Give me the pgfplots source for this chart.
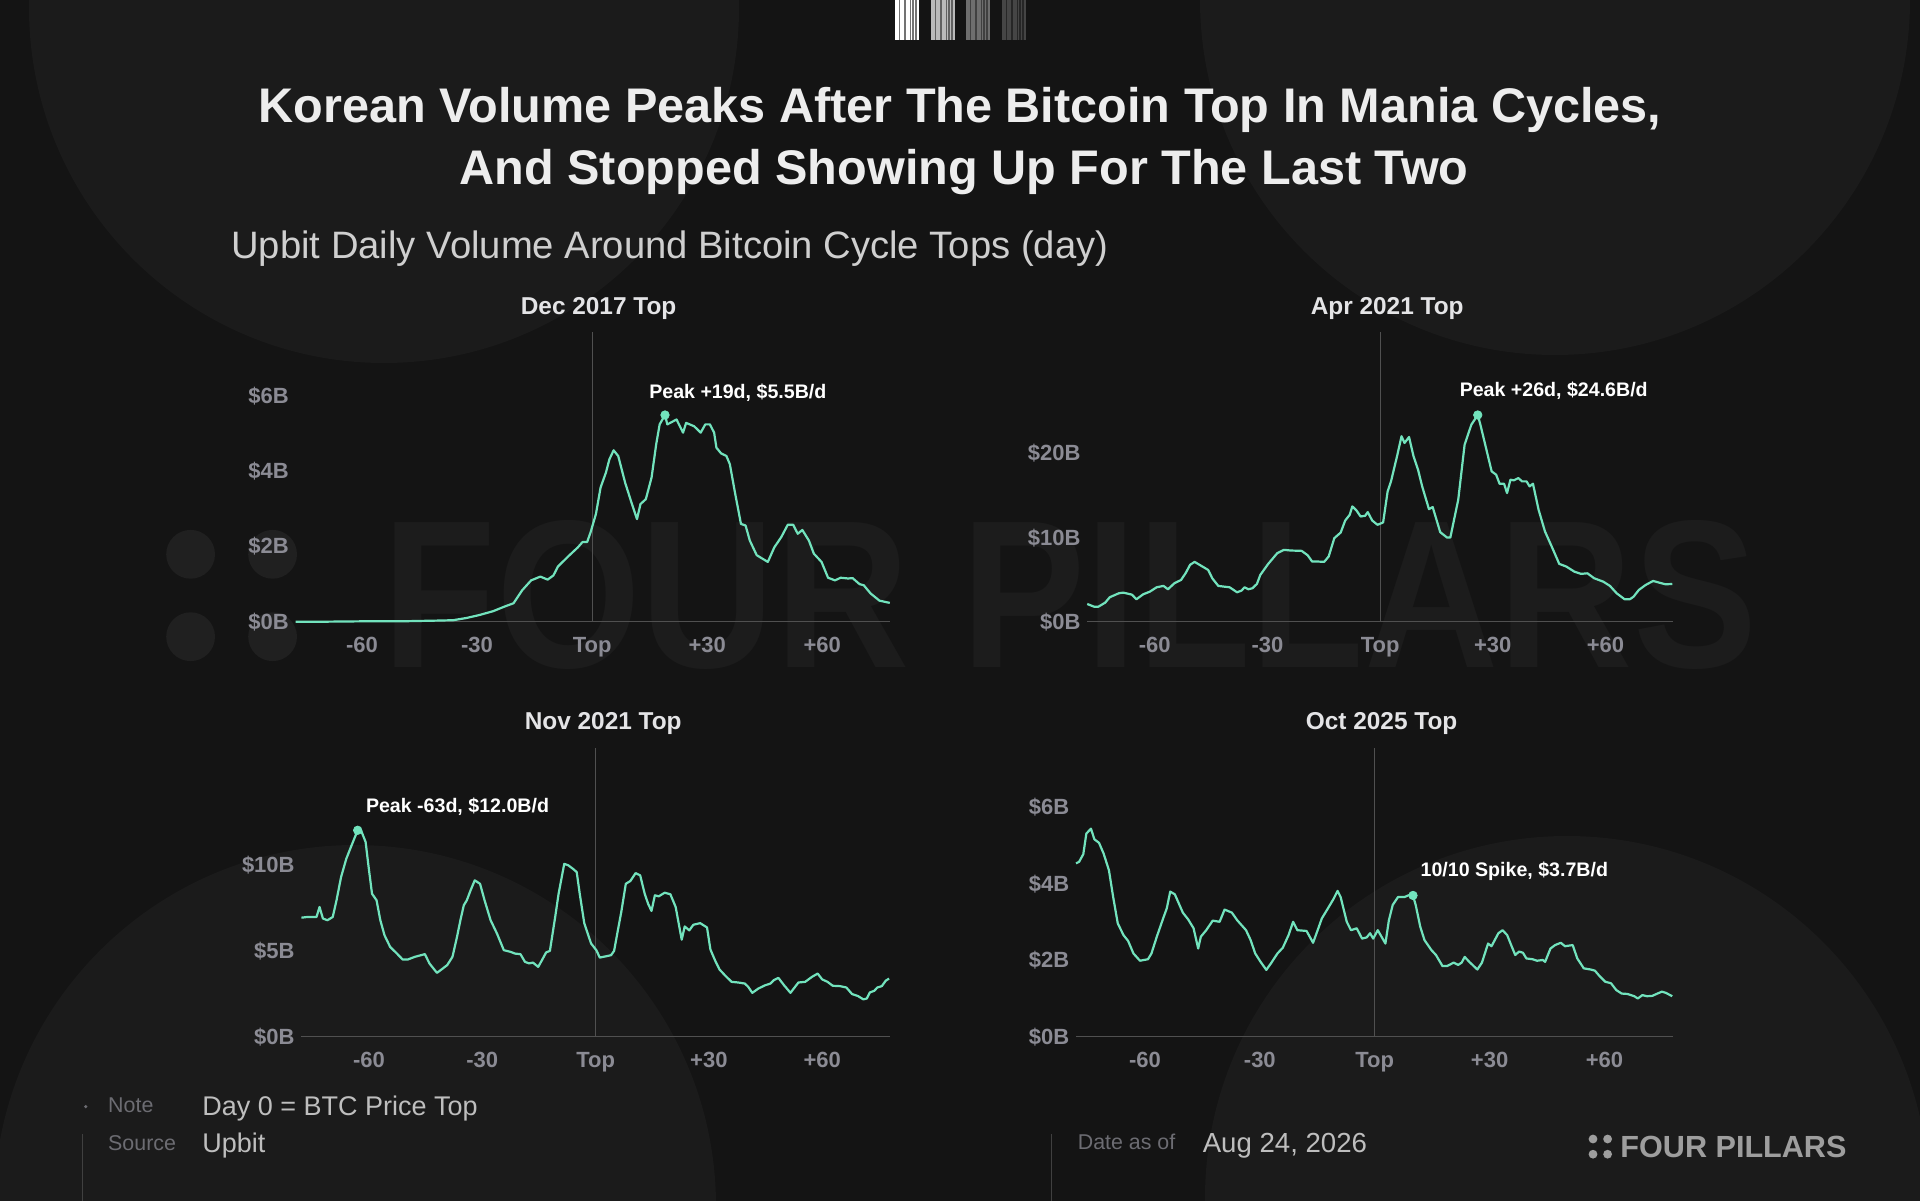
\documentclass[border=0pt]{standalone}
\usepackage{pgfplots}
\pgfplotsset{compat=1.18}
\usepackage{fontspec}
\usepackage{graphicx}
\setmainfont{Liberation Sans}
\definecolor{bg}{HTML}{141414}
\definecolor{circ}{HTML}{1B1B1B}
\definecolor{wm}{HTML}{1C1C1C}
\definecolor{wmd}{HTML}{202020}
\definecolor{mint}{HTML}{72E3BD}
\definecolor{tickc}{HTML}{8B8B94}
\definecolor{ptitle}{HTML}{E4E4E6}
\definecolor{axl}{HTML}{505050}
\definecolor{titlec}{HTML}{EDEDED}
\definecolor{subc}{HTML}{CFCFCF}
\definecolor{footk}{HTML}{6C6C72}
\definecolor{footv}{HTML}{BEBEBE}
\pgfplotsset{panel/.style={
  scale only axis, anchor=south west, clip=false,
  axis line style={draw=none}, major tick length=0pt,
  xtick={-60,-30,0,30,60}, xticklabels={-60,-30,Top,+30,+60},
  ymin=0,
  tick label style={font=\bfseries\fontsize{11}{13}\selectfont, text=tickc},
  xticklabel style={anchor=north, inner sep=0pt, yshift=-7.5pt},
  yticklabel style={anchor=east, inner sep=0pt, xshift=-3.2pt},
}}
\tikzset{vol/.style={color=mint, line width=1.1pt, line join=round},
  pk/.style={only marks, mark=*, mark size=2.1pt, color=mint},
  ann/.style={anchor=base west, inner sep=0pt, text=white, font=\bfseries\fontsize{9.8}{11}\selectfont}}
\begin{document}
\begin{tikzpicture}
\path[use as bounding box] (0,0) rectangle (960pt,600pt);
\fill[bg] (-3pt,-3pt) rectangle (963pt,603pt);
\begin{scope}
\clip (-3pt,-3pt) rectangle (963pt,603pt);
\fill[circ] (192pt,596pt) circle (177.5pt);
\fill[circ] (777.5pt,600pt) circle (177.5pt);
\fill[circ] (177.5pt,-3pt) circle (180.5pt);
\fill[circ] (783.5pt,1pt) circle (181pt);
\end{scope}
% watermark
\node[anchor=base west, inner sep=0pt, text=wm] at (191pt,266.3pt) {\resizebox{687.5pt}{73.5pt}{\bfseries FOUR PILLARS}};
\foreach \dx in {95.3,136.3}{\foreach \dy in {322.85,281.65}{\fill[wmd] (\dx pt,\dy pt) circle (12.2pt);}}
% barcode logo
\foreach \g/\c/\d in {447.5/white/black!55!white, 465.5/black!27!white/black!62!white, 483/black!57!white/black!75!white, 501/black!73!white/black!85!white}{
  \fill[\c] (\g pt,580pt) rectangle (\g pt+12pt,600pt);
  \foreach \a/\w in {2/0.6, 4.5/1.0, 7.5/0.6, 8.6/1.0, 10.2/1.0}{
    \fill[\d] (\g pt+\a pt,580pt) rectangle (\g pt+\a pt+\w pt,600pt);
  }
}
% titles
\node[anchor=base, inner sep=0pt, text=titlec, font=\bfseries\fontsize{24.3}{28}\selectfont] at (480pt,538.65pt) {Korean Volume Peaks After The Bitcoin Top In Mania Cycles,};
\node[anchor=base, inner sep=0pt, text=titlec, font=\bfseries\fontsize{24.3}{28}\selectfont] at (482pt,507.5pt) {And Stopped Showing Up For The Last Two};
\node[anchor=base west, inner sep=0pt, text=subc, font=\fontsize{19.1}{22}\selectfont] at (115.5pt,470.85pt) {Upbit Daily Volume Around Bitcoin Cycle Tops (day)};
% panel titles
\node[anchor=base, inner sep=0pt, text=ptitle, font=\bfseries\fontsize{12.2}{14}\selectfont] at (299.3pt,442.8pt) {Dec 2017 Top};
\node[anchor=base, inner sep=0pt, text=ptitle, font=\bfseries\fontsize{12.2}{14}\selectfont] at (693.6pt,442.8pt) {Apr 2021 Top};
\node[anchor=base, inner sep=0pt, text=ptitle, font=\bfseries\fontsize{12.2}{14}\selectfont] at (301.6pt,235.3pt) {Nov 2021 Top};
\node[anchor=base, inner sep=0pt, text=ptitle, font=\bfseries\fontsize{12.2}{14}\selectfont] at (690.8pt,235.3pt) {Oct 2025 Top};

% Panel 1
\begin{axis}[panel, at={(147.8pt,289.15pt)}, width=297.1pt, height=144.7pt,
  xmin=-77.3, xmax=77.6, ymax=7.7, ytick={0,2,4,6}, yticklabels={\$0B,\$2B,\$4B,\$6B}]
\draw[axl, line width=0.6pt] (axis cs:-77.3,0) -- (axis cs:77.6,0);
\draw[axl, line width=0.5pt] (axis cs:0,0) -- (axis cs:0,7.7);
\addplot[vol] coordinates {(-77.3,0.00) (-70,0.00) (-60,0.01) (-50,0.01) (-45,0.02) (-40,0.03) (-36.2,0.04) (-32.7,0.10) (-29.3,0.18) (-25.8,0.28) (-22.9,0.40) (-20.5,0.49) (-18.2,0.84) (-15.9,1.10) (-13.5,1.20) (-11.6,1.12) (-10.1,1.23) (-8.9,1.47) (-6.0,1.76) (-3.7,1.98) (-2.5,2.12) (-1.3,2.12) (-0.4,2.38) (1.0,2.87) (2.2,3.57) (3.6,3.97) (4.5,4.32) (5.6,4.56) (6.8,4.41) (8.6,3.70) (10.1,3.22) (11.7,2.73) (12.6,3.13) (14.0,3.26) (15.5,3.84) (16.7,4.72) (17.6,5.25) (19,5.5) (19.6,5.25) (22.0,5.38) (23.7,5.03) (24.5,5.29) (26.6,5.20) (28.3,5.03) (29.5,5.25) (30.7,5.25) (31.8,5.03) (32.4,4.63) (33.6,4.48) (35.0,4.41) (35.9,4.19) (37.3,3.40) (38.8,2.60) (40.0,2.56) (41.1,2.16) (42.9,1.77) (45.8,1.59) (47.5,1.98) (49.3,2.25) (51.0,2.58) (52.4,2.58) (53.6,2.34) (54.8,2.44) (56.5,2.16) (57.8,1.81) (59.8,1.59) (61.5,1.17) (63.3,1.10) (64.8,1.17) (66.7,1.15) (67.9,1.16) (69.7,1.00) (70.8,0.97) (72.6,0.75) (74.9,0.56) (77.6,0.50)};
\addplot[pk] coordinates {(19,5.5)};
\node[ann] at (axis cs:14.8,5.95) {Peak +19d, \$5.5B/d};
\end{axis}

% Panel 2
\begin{axis}[panel, at={(543.6pt,289.15pt)}, width=292.9pt, height=144.7pt,
  xmin=-78, xmax=78, ymax=34.44, ytick={0,10,20}, yticklabels={\$0B,\$10B,\$20B}]
\draw[axl, line width=0.6pt] (axis cs:-78,0) -- (axis cs:78,0);
\draw[axl, line width=0.5pt] (axis cs:0,0) -- (axis cs:0,34.44);
\addplot[vol] coordinates {(-78.0,2.11) (-76.2,1.79) (-75.0,1.79) (-73.2,2.27) (-72.0,2.91) (-69.6,3.38) (-68.4,3.46) (-66.1,3.22) (-64.9,2.67) (-63.1,3.26) (-61.3,3.58) (-59.5,4.10) (-57.7,4.26) (-56.5,3.86) (-54.8,4.57) (-53.0,4.97) (-51.8,5.77) (-50.6,6.77) (-49.4,7.12) (-47.6,6.64) (-45.8,6.16) (-44.7,5.17) (-43.1,4.26) (-41.7,4.18) (-40.1,4.10) (-38.1,3.50) (-36.9,3.70) (-36.1,4.10) (-35.1,3.86) (-34.0,3.98) (-32.8,4.50) (-31.9,5.57) (-29.8,6.88) (-27.4,8.15) (-25.6,8.55) (-23.8,8.47) (-20.9,8.43) (-19.3,7.91) (-18.1,7.16) (-16.7,7.16) (-14.9,7.12) (-13.7,7.76) (-12.2,9.94) (-10.5,10.61) (-9.3,12.04) (-8.1,12.72) (-7.4,13.72) (-6.3,13.24) (-5.2,12.52) (-4.0,12.60) (-3.3,13.04) (-2.1,12.04) (-0.7,11.53) (0.8,11.81) (2.0,15.50) (2.9,16.70) (4.5,19.68) (5.7,22.07) (6.5,21.27) (7.7,21.98) (8.9,19.68) (10.1,18.09) (11.2,16.10) (13.0,13.40) (14.0,13.64) (16.0,10.66) (17.8,10.02) (18.7,10.02) (20.8,14.51) (22.5,21.07) (24.3,23.45) (26,24.6) (26.7,23.45) (28.2,20.67) (29.7,17.89) (30.9,17.49) (31.8,16.42) (33.0,16.42) (33.8,15.31) (34.7,16.90) (35.6,16.82) (36.8,17.09) (37.8,16.70) (39.0,16.70) (39.8,16.10) (40.7,16.42) (42.2,13.32) (43.9,10.74) (45.7,8.94) (47.7,6.88) (49.6,6.56) (51.7,5.96) (53.5,5.69) (55.2,5.76) (57.0,5.17) (59.4,4.77) (61.2,4.26) (63.0,3.38) (65.1,2.67) (66.5,2.67) (67.5,2.98) (68.9,3.78) (70.7,4.37) (72.7,4.85) (74.3,4.65) (76.0,4.45) (77.8,4.49)};
\addplot[pk] coordinates {(26,24.6)};
\node[ann] at (axis cs:21.1,26.83) {Peak +26d, \$24.6B/d};
\end{axis}

% Panel 3
\begin{axis}[panel, at={(150.7pt,81.65pt)}, width=294.2pt, height=144.5pt,
  xmin=-77.9, xmax=77.9, ymax=16.8, ytick={0,5,10}, yticklabels={\$0B,\$5B,\$10B}]
\draw[axl, line width=0.6pt] (axis cs:-77.9,0) -- (axis cs:77.9,0);
\draw[axl, line width=0.5pt] (axis cs:0,0) -- (axis cs:0,16.8);
\addplot[vol] coordinates {(-77.9,6.92) (-76.3,6.96) (-75.1,6.96) (-73.9,6.96) (-73.1,7.54) (-72.2,6.87) (-71.0,6.77) (-69.6,6.96) (-68.6,7.93) (-67.4,9.28) (-66.0,10.35) (-64.8,11.02) (-63,12.0) (-62.1,11.99) (-60.9,11.32) (-60.1,9.86) (-59.2,8.31) (-58.0,7.93) (-57.0,6.77) (-55.9,5.90) (-54.4,5.22) (-52.6,4.83) (-51.1,4.49) (-49.7,4.49) (-47.9,4.64) (-45.2,4.80) (-44.0,4.26) (-42.0,3.71) (-40.8,3.91) (-39.3,4.16) (-37.9,4.64) (-36.7,5.80) (-35.8,6.77) (-34.9,7.64) (-34.1,7.93) (-33.1,8.51) (-32.0,9.09) (-30.6,8.89) (-29.4,7.93) (-27.8,6.77) (-26.1,5.99) (-24.3,5.03) (-22.5,4.93) (-21.3,4.83) (-19.9,4.80) (-18.7,4.35) (-17.6,4.26) (-16.6,4.31) (-15.2,4.06) (-14.2,4.45) (-13.1,4.90) (-12.1,4.99) (-10.7,6.96) (-9.8,8.31) (-8.3,10.05) (-7.2,9.96) (-6.0,9.76) (-5.0,9.57) (-4.2,8.31) (-3.0,6.60) (-1.2,5.42) (0.2,5.03) (1.1,4.60) (2.9,4.68) (4.1,4.74) (4.9,4.99) (5.9,6.19) (6.8,7.25) (8.0,8.89) (9.2,9.05) (10.6,9.51) (11.8,9.38) (13.0,8.31) (13.9,7.73) (14.8,7.31) (15.7,8.22) (16.7,8.16) (18.3,8.37) (19.8,8.28) (21.2,7.54) (22.8,5.64) (23.6,6.41) (24.8,6.18) (25.9,6.51) (27.7,6.60) (29.5,6.35) (30.4,5.07) (31.6,4.45) (32.8,3.91) (34.2,3.58) (36.0,3.19) (37.8,3.15) (39.5,3.09) (40.4,2.90) (41.5,2.55) (43.1,2.80) (44.9,2.99) (46.3,3.09) (47.2,3.29) (48.4,3.42) (49.9,2.99) (51.6,2.55) (53.7,3.15) (55.5,3.19) (57.3,3.48) (58.8,3.67) (60.0,3.33) (61.4,3.19) (62.8,2.96) (64.7,2.94) (66.4,2.86) (67.9,2.48) (69.5,2.36) (70.9,2.17) (71.8,2.22) (72.6,2.57) (73.8,2.67) (74.6,2.86) (75.8,2.94) (76.8,3.25) (77.7,3.38)};
\addplot[pk] coordinates {(-63,12.0)};
\node[ann] at (axis cs:-60.9,13.05) {Peak -63d, \$12.0B/d};
\end{axis}

% Panel 4
\begin{axis}[panel, at={(538pt,81.65pt)}, width=298.5pt, height=144.5pt,
  xmin=-78, xmax=77.9, ymax=7.57, ytick={0,2,4,6}, yticklabels={\$0B,\$2B,\$4B,\$6B}]
\draw[axl, line width=0.6pt] (axis cs:-78,0) -- (axis cs:77.9,0);
\draw[axl, line width=0.5pt] (axis cs:0,0) -- (axis cs:0,7.57);
\addplot[vol] coordinates {(-78.0,4.54) (-77.2,4.58) (-76.1,4.78) (-75.3,5.32) (-74.1,5.45) (-73.2,5.17) (-72.0,5.08) (-70.8,4.80) (-69.4,4.36) (-68.3,3.66) (-67.1,2.97) (-65.6,2.66) (-64.4,2.51) (-63.0,2.18) (-61.3,1.99) (-59.2,2.03) (-58.3,2.18) (-56.9,2.62) (-55.1,3.14) (-54.3,3.36) (-53.4,3.80) (-52.2,3.73) (-50.1,3.25) (-48.7,3.07) (-47.3,2.84) (-46.1,2.31) (-45.4,2.62) (-44.0,2.79) (-42.3,3.04) (-40.5,3.01) (-39.2,3.33) (-37.3,3.25) (-35.9,3.05) (-33.6,2.79) (-32.4,2.53) (-31.2,2.18) (-29.8,1.96) (-28.3,1.75) (-27.1,1.92) (-25.4,2.18) (-24.0,2.33) (-22.5,2.66) (-21.3,3.01) (-20.2,2.79) (-17.8,2.77) (-16.1,2.46) (-14.9,2.79) (-13.8,3.10) (-12.4,3.33) (-10.8,3.60) (-9.7,3.82) (-8.9,3.66) (-7.3,3.01) (-6.2,2.79) (-4.7,2.84) (-3.3,2.57) (-2.1,2.60) (-1.2,2.71) (-0.4,2.57) (0.8,2.79) (2.8,2.44) (3.7,3.05) (4.7,3.45) (6.1,3.66) (7.8,3.66) (9.0,3.71) (10,3.7) (10.7,3.45) (11.9,2.88) (13.0,2.53) (14.8,2.27) (16.0,2.14) (17.7,1.85) (18.9,1.85) (20.6,1.94) (21.8,1.88) (22.7,1.94) (23.5,2.09) (24.7,1.96) (26.8,1.76) (28.0,1.94) (29.6,2.44) (30.5,2.37) (32.3,2.71) (33.4,2.79) (34.6,2.66) (35.8,2.36) (36.7,2.14) (37.7,2.23) (38.7,2.20) (39.6,2.05) (41.2,2.03) (42.4,1.99) (43.9,2.01) (44.5,1.96) (45.9,2.31) (47.1,2.40) (48.6,2.46) (49.7,2.37) (51.7,2.40) (52.9,2.05) (54.6,1.79) (56.4,1.76) (57.5,1.73) (58.7,1.59) (60.2,1.44) (61.7,1.40) (63.1,1.22) (64.5,1.13) (66.0,1.12) (67.8,1.06) (68.7,1.00) (69.9,1.09) (71.1,1.06) (72.5,1.07) (73.6,1.12) (75.0,1.18) (76.0,1.15) (77.7,1.06)};
\addplot[pk] coordinates {(10,3.7)};
\node[ann] at (axis cs:11.9,4.19) {10/10 Spike, \$3.7B/d};
\end{axis}

% footer
\fill[footk] (42.9pt,46.7pt) circle (0.9pt);
\draw[black!75!white, line width=0.5pt] (41pt,-2pt) -- (41pt,33pt);
\draw[black!75!white, line width=0.5pt] (525.9pt,-2pt) -- (525.9pt,33pt);
\node[anchor=base west, inner sep=0pt, text=footk, font=\fontsize{10.7}{12}\selectfont] at (53.9pt,43.7pt) {Note};
\node[anchor=base west, inner sep=0pt, text=footv, font=\fontsize{13.5}{15}\selectfont] at (101pt,42.5pt) {Day 0 = BTC Price Top};
\node[anchor=base west, inner sep=0pt, text=footk, font=\fontsize{10.7}{12}\selectfont] at (53.9pt,25pt) {Source};
\node[anchor=base west, inner sep=0pt, text=footv, font=\fontsize{13.5}{15}\selectfont] at (101pt,23.7pt) {Upbit};
\node[anchor=base west, inner sep=0pt, text=footk, font=\fontsize{10.7}{12}\selectfont] at (538.7pt,25.3pt) {Date as of};
\node[anchor=base west, inner sep=0pt, text=footv, font=\fontsize{13.8}{15}\selectfont] at (601.2pt,23.7pt) {Aug 24, 2026};
\foreach \dx in {796.5,803.8}{\foreach \dy in {22.9,30.5}{\fill[black!38!white] (\dx pt,\dy pt) circle (2.2pt);}}
\node[anchor=base west, inner sep=0pt, text=black!38!white, font=\bfseries\fontsize{15.3}{18}\selectfont] at (810pt,21.2pt) {FOUR PILLARS};
\end{tikzpicture}
\end{document}
